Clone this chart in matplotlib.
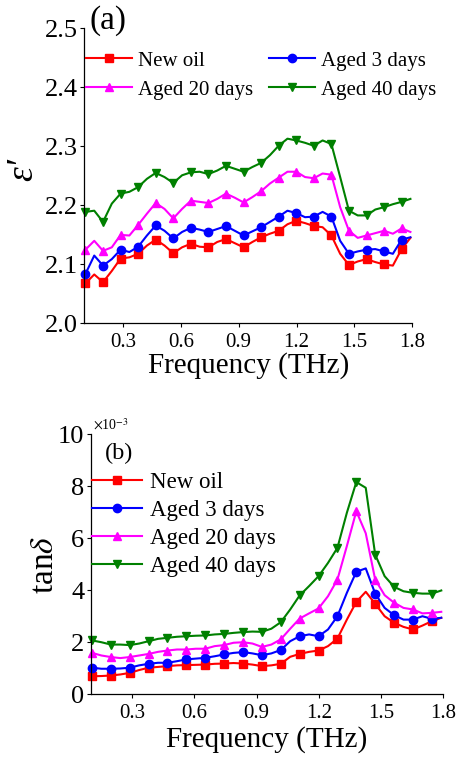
import numpy as np
import matplotlib
matplotlib.use("Agg")
import matplotlib.pyplot as plt

plt.rcParams['font.family'] = ['Liberation Serif', 'DejaVu Serif']
plt.rcParams['mathtext.fontset'] = 'stix'

# frequency grid (THz): markers sit on every other point
freq = np.linspace(0.106, 1.79, 38)

labels = ["New oil", "Aged 3 days", "Aged 20 days", "Aged 40 days"]
colors = ["#ff0000", "#0000ff", "#ff00ff", "#008000"]
markers = ["s", "o", "^", "v"]

# (a) real permittivity
eps_new = [2.068, 2.083, 2.070, 2.089, 2.110, 2.112, 2.118, 2.132, 2.142, 2.132,
           2.119, 2.129, 2.135, 2.130, 2.129, 2.138, 2.143, 2.136, 2.129, 2.138,
           2.146, 2.152, 2.157, 2.168, 2.174, 2.170, 2.165, 2.163, 2.149, 2.118,
           2.099, 2.105, 2.109, 2.104, 2.100, 2.098, 2.126, 2.145]
eps_3d = [2.084, 2.115, 2.098, 2.109, 2.125, 2.121, 2.130, 2.149, 2.166, 2.157,
          2.144, 2.155, 2.162, 2.159, 2.155, 2.160, 2.165, 2.157, 2.149, 2.156,
          2.163, 2.172, 2.181, 2.191, 2.187, 2.180, 2.181, 2.189, 2.181, 2.140,
          2.118, 2.122, 2.125, 2.126, 2.122, 2.118, 2.142, 2.146]
eps_20d = [2.125, 2.140, 2.123, 2.129, 2.150, 2.149, 2.167, 2.186, 2.204, 2.194,
           2.178, 2.194, 2.208, 2.206, 2.204, 2.211, 2.220, 2.213, 2.205, 2.214,
           2.224, 2.237, 2.247, 2.257, 2.257, 2.248, 2.246, 2.254, 2.252, 2.197,
           2.157, 2.145, 2.149, 2.153, 2.157, 2.152, 2.161, 2.155]
eps_40d = [2.189, 2.191, 2.172, 2.203, 2.220, 2.223, 2.231, 2.245, 2.255, 2.248,
           2.238, 2.251, 2.256, 2.257, 2.253, 2.259, 2.267, 2.262, 2.257, 2.265,
           2.272, 2.285, 2.301, 2.313, 2.310, 2.306, 2.301, 2.310, 2.304, 2.248,
           2.191, 2.183, 2.183, 2.193, 2.197, 2.202, 2.206, 2.211]

# (b) loss tangent, x1e-3
tan_new = [0.70, 0.71, 0.73, 0.77, 0.83, 0.94, 1.03, 1.06, 1.09, 1.12,
           1.13, 1.14, 1.15, 1.18, 1.19, 1.21, 1.19, 1.15, 1.09, 1.12,
           1.18, 1.45, 1.56, 1.64, 1.69, 1.86, 2.15, 2.88, 3.56, 3.95,
           3.49, 3.01, 2.76, 2.60, 2.50, 2.65, 2.82, 2.95]
tan_3d = [1.03, 0.99, 0.99, 1.00, 1.03, 1.12, 1.18, 1.22, 1.22, 1.28,
          1.35, 1.38, 1.41, 1.47, 1.54, 1.60, 1.63, 1.58, 1.51, 1.58,
          1.71, 2.05, 2.24, 2.31, 2.24, 2.50, 3.01, 3.91, 4.72, 4.85,
          3.88, 3.33, 3.05, 2.88, 2.88, 3.01, 2.91, 2.95]
tan_20d = [1.60, 1.50, 1.44, 1.40, 1.44, 1.50, 1.56, 1.64, 1.69, 1.73,
           1.73, 1.76, 1.76, 1.86, 1.90, 1.99, 2.01, 1.96, 1.83, 1.92,
           2.12, 2.53, 2.92, 3.12, 3.31, 3.78, 4.42, 5.71, 7.05, 6.20,
           4.42, 3.82, 3.53, 3.33, 3.27, 3.12, 3.14, 3.18]
tan_40d = [2.08, 2.01, 1.92, 1.92, 1.90, 1.96, 2.05, 2.14, 2.18, 2.22,
           2.24, 2.26, 2.27, 2.31, 2.33, 2.37, 2.40, 2.42, 2.41, 2.53,
           2.78, 3.27, 3.81, 4.17, 4.55, 5.06, 5.64, 6.99, 8.17, 7.95,
           5.38, 4.55, 4.14, 3.97, 3.91, 3.88, 3.88, 4.00]

xticks = [0.3, 0.6, 0.9, 1.2, 1.5, 1.8]


def style_ax(ax):
    for s in ['top', 'right']:
        ax.spines[s].set_visible(False)
    for s in ['left', 'bottom']:
        ax.spines[s].set_linewidth(0.9)
    ax.tick_params(direction='out', length=3.2, width=0.8)
    ax.tick_params(axis='y', labelsize=19, pad=1.5)
    ax.tick_params(axis='x', labelsize=15, pad=4)
    ax.set_xlim(0.1, 1.8)
    ax.set_xticks(xticks)
    ax.set_xticklabels(['%.1f' % t for t in xticks])


fig = plt.figure(figsize=(4.64, 7.62), dpi=100)

# ---- (a)
ax1 = fig.add_axes([0.1817, 0.5755, 0.707, 0.3874])
lines_a = []
for y, c, m, lab in zip([eps_new, eps_3d, eps_20d, eps_40d], colors, markers, labels):
    l, = ax1.plot(freq, y, color=c, marker=m, markevery=2, markersize=6,
                  lw=1.5, label=lab, clip_on=False)
    lines_a.append(l)
style_ax(ax1)
ax1.set_ylim(2.0, 2.5)
ax1.set_yticks([2.0, 2.1, 2.2, 2.3, 2.4, 2.5])
ax1.set_yticklabels(['2.0', '2.1', '2.2', '2.3', '2.4', '2.5'])
ax1.set_xlabel('Frequency (THz)', fontsize=21, labelpad=0)
ax1.set_ylabel('\u03b5\u2032', fontsize=27, fontstyle='italic')
ax1.yaxis.set_label_coords(-0.135, 0.52)
order = [0, 2, 1, 3]
ax1.legend([lines_a[i] for i in order], [labels[i] for i in order], ncol=2,
           loc='upper left', bbox_to_anchor=(86 / 464, 1 - 51 / 762),
           bbox_transform=fig.transFigure, frameon=False, fontsize=15,
           borderpad=0, borderaxespad=0, handlelength=2.2, handletextpad=0.3,
           columnspacing=0.75, labelspacing=0.45)
fig.text(90 / 464, 1 - 21 / 762, '(a)', fontsize=24, ha='left', va='center')

# ---- (b)
ax2 = fig.add_axes([0.1955, 0.0886, 0.760, 0.3412])
for y, c, m, lab in zip([tan_new, tan_3d, tan_20d, tan_40d], colors, markers, labels):
    ax2.plot(freq, y, color=c, marker=m, markevery=2, markersize=6,
             lw=1.5, label=lab, clip_on=False)
style_ax(ax2)
ax2.set_ylim(0, 10)
ax2.set_yticks([0, 2, 4, 6, 8, 10])
ax2.set_xlabel('Frequency (THz)', fontsize=21, labelpad=2)
ax2.set_ylabel(r'tan$\delta$', fontsize=24)
ax2.yaxis.set_label_coords(-0.087, 0.5)
ax2.legend(loc='upper left', bbox_to_anchor=(92 / 464, 1 - 472 / 762),
           bbox_transform=fig.transFigure, frameon=False, fontsize=16.5,
           borderpad=0, borderaxespad=0, handlelength=2.2, handletextpad=0.33,
           labelspacing=0.3)
fig.text(105 / 464, 1 - 453 / 762, '(b)', fontsize=17.5, ha='left', va='center')
fig.text(93 / 464, 1 - 425 / 762, r'$\times$10$^{-3}$', fontsize=10, ha='left', va='center')

fig.savefig('out.png', dpi=100)
plt.close()
